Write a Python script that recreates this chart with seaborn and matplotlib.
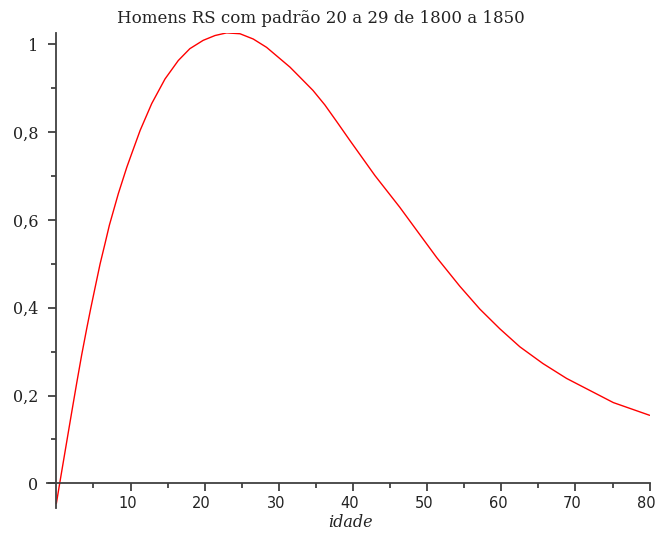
import matplotlib
matplotlib.use("Agg")
import matplotlib.pyplot as plt
import matplotlib.transforms as mtransforms
import seaborn as sns
import pandas as pd
from matplotlib.ticker import FixedLocator

# Data
idade = [0, 0.45, 0.95, 1.48, 2.07, 2.75, 3.42, 4.1, 4.63, 5.2, 5.9, 6.56,
         7.15, 8.36, 9.5, 10.16, 11.3, 12.86, 14.65, 16.44, 18.0, 19.8,
         21.4, 22.96, 24.76, 26.55, 28.35, 31.5, 32.85, 34.6, 36.2, 37.8,
         39.58, 42.96, 46.3, 48.6, 51.3, 54.4, 57.1, 59.8, 62.5, 65.6, 68.8,
         75.1, 80.0]
valor = [-0.046, 0.0, 0.05, 0.103, 0.162, 0.229, 0.293, 0.353, 0.398, 0.444,
         0.50, 0.546, 0.588, 0.66, 0.72, 0.751, 0.804, 0.865, 0.921, 0.963,
         0.99, 1.009, 1.02, 1.026, 1.024, 1.012, 0.993, 0.948, 0.925, 0.895,
         0.862, 0.824, 0.781, 0.701, 0.629, 0.576, 0.514, 0.449, 0.397,
         0.352, 0.311, 0.273, 0.239, 0.184, 0.155]
x_ticks = [10, 20, 30, 40, 50, 60, 70, 80]
x_minor = [5, 15, 25, 35, 45, 55, 65, 75]
y_ticks = [0, 0.2, 0.4, 0.6, 0.8, 1.0]
y_minor = [0.1, 0.3, 0.5, 0.7, 0.9]
y_tick_labels = ["0", "0,2", "0,4", "0,6", "0,8", "1"]
titulo = "Homens RS com padrão 20 a 29 de 1800 a 1850"
rotulo_x = "idade"

sns.set_style("ticks")
df = pd.DataFrame({"idade": idade, "valor": valor})

fig = plt.figure(figsize=(6.56, 5.33), dpi=100)
ax = fig.add_axes([0.0712, 0.0478, 0.9197, 0.8897])
sns.lineplot(data=df, x="idade", y="valor", ax=ax, color="#ff0000",
             linewidth=1.0, sort=False)

ax.set_xlim(-1.3, 80.05)
ax.set_ylim(-0.055, 1.025)

axis_color = "#404040"
ax.spines["left"].set_position(("data", 0))
ax.spines["bottom"].set_position(("data", 0))
for s in ["top", "right"]:
    ax.spines[s].set_visible(False)
for s in ["left", "bottom"]:
    ax.spines[s].set_color(axis_color)
    ax.spines[s].set_linewidth(1.3)

ax.xaxis.set_major_locator(FixedLocator(x_ticks))
ax.xaxis.set_minor_locator(FixedLocator(x_minor))
ax.yaxis.set_major_locator(FixedLocator(y_ticks))
ax.yaxis.set_minor_locator(FixedLocator(y_minor))
ax.set_yticklabels(y_tick_labels)
ax.set_xticklabels([str(t) for t in x_ticks])

ax.tick_params(axis="both", which="both", bottom=True, left=True,
               top=False, right=False)
ax.tick_params(axis="both", which="major", direction="out", length=6,
               width=1.3, color=axis_color)
ax.tick_params(axis="both", which="minor", direction="out", length=3.6,
               width=1.3, color=axis_color)
ax.tick_params(axis="y", which="major", pad=7)
ax.tick_params(axis="x", which="major", pad=3)

shift = mtransforms.ScaledTranslation(-3 / 100, 0, fig.dpi_scale_trans)
for lab in ax.get_yticklabels():
    lab.set_fontfamily("DejaVu Serif")
    lab.set_fontsize(11.5)
    lab.set_color("#222222")
for lab in ax.get_xticklabels():
    lab.set_fontfamily("DejaVu Sans")
    lab.set_fontsize(10.5)
    lab.set_color("#222222")
    lab.set_transform(lab.get_transform() + shift)

ax.set_xlabel("")
ax.set_ylabel("")
ax.patch.set_alpha(0)

fig.text(0.489, 0.966, titulo, ha="center", va="center",
         fontfamily="DejaVu Serif", fontsize=12, color="#222222")
fig.text(0.534, 0.019, rotulo_x, ha="center", va="center",
         fontfamily="DejaVu Serif", style="italic", fontsize=11.5,
         color="#222222")

fig.savefig("out.png", dpi=100)
